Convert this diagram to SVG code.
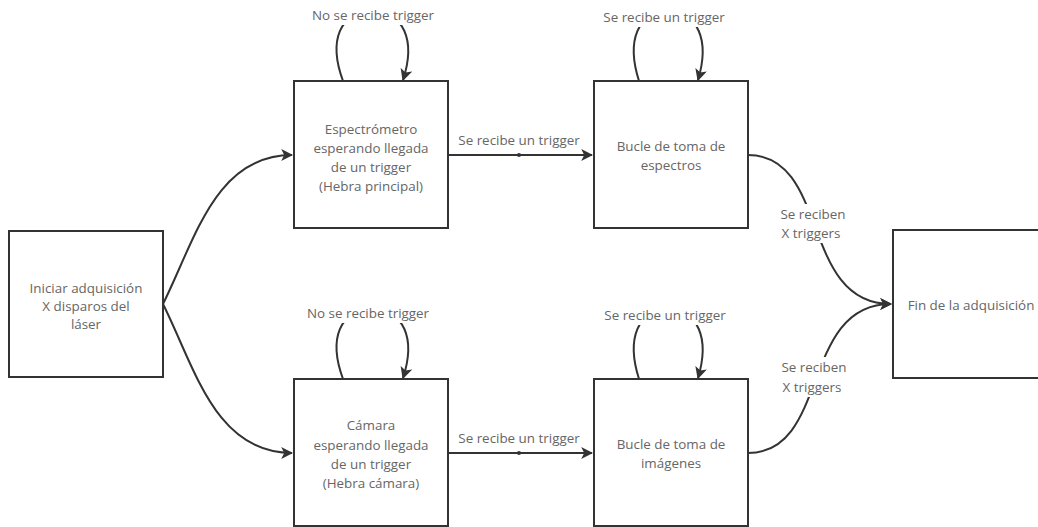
<svg xmlns="http://www.w3.org/2000/svg" width="1038" height="527" viewBox="0 0 1038 527">
  <style>
    .box { fill: #ffffff; stroke: #333333; stroke-width: 2; }
    .txt { font-family: "Open Sans", "Noto Sans", "DejaVu Sans", sans-serif; font-size: 13.4px; fill: #666666; text-anchor: middle; dominant-baseline: central; }
    .edge { fill: none; stroke: #333333; stroke-width: 2; }
    .lblbg { fill: #ffffff; stroke: none; }
  </style>
  <defs>
    <marker id="arrow" viewBox="0 0 10 10" refX="9" refY="5" markerWidth="12" markerHeight="12" markerUnits="userSpaceOnUse" orient="auto">
      <path d="M0,0 L10,5 L0,10 L2.5,5 Z" fill="#333333"/>
    </marker>
  </defs>
  <rect width="1038" height="527" fill="#ffffff"/>

  <!-- connectors -->
  <g id="connectors">
    <!-- start fan-out -->
    <path class="edge" d="M163 304 C195 240 215 155 292 155" marker-end="url(#arrow)"/>
    <path class="edge" d="M163 304 C195 368 215 453 292 453" marker-end="url(#arrow)"/>

    <!-- waiting -> acquisition loops -->
    <path class="edge" d="M448 155 L592 155" marker-end="url(#arrow)"/>
    <circle cx="519" cy="155" r="2" fill="#333333"/>
    <text class="txt" x="519" y="140">Se recibe un trigger</text>
    <path class="edge" d="M448 453 L592 453" marker-end="url(#arrow)"/>
    <circle cx="519" cy="453" r="2" fill="#333333"/>
    <text class="txt" x="519" y="438">Se recibe un trigger</text>

    <!-- self loops (top row) -->
    <path class="edge" d="M343 81 C328 40 340 12 372 12 C404 12 416 40 403 80" marker-end="url(#arrow)"/>
    <rect class="lblbg" x="308" y="6" width="130" height="19"/>
    <text class="txt" x="373" y="15">No se recibe trigger</text>

    <path class="edge" d="M639 81 C626 40 638 12 668 12 C698 12 710 40 698 80" marker-end="url(#arrow)"/>
    <rect class="lblbg" x="598" y="8" width="132" height="19"/>
    <text class="txt" x="664" y="17">Se recibe un trigger</text>

    <!-- self loops (bottom row) -->
    <path class="edge" d="M343 379 C328 338 340 310 372 310 C404 310 416 338 403 378" marker-end="url(#arrow)"/>
    <rect class="lblbg" x="303" y="304" width="130" height="19"/>
    <text class="txt" x="368" y="313">No se recibe trigger</text>

    <path class="edge" d="M639 379 C626 338 638 310 668 310 C698 310 710 338 698 378" marker-end="url(#arrow)"/>
    <rect class="lblbg" x="599" y="306" width="132" height="19"/>
    <text class="txt" x="665" y="315">Se recibe un trigger</text>

    <!-- acquisition loops -> end -->
    <path class="edge" d="M748 155 C830 155 800 304 891 304" marker-end="url(#arrow)"/>
    <rect class="lblbg" x="776" y="204" width="74" height="39"/>
    <text class="txt" x="813" y="214">Se reciben</text>
    <text class="txt" x="811" y="233">X triggers</text>

    <path class="edge" d="M748 453 C830 453 800 304 891 304" marker-end="url(#arrow)"/>
    <rect class="lblbg" x="777" y="357" width="74" height="40"/>
    <text class="txt" x="814" y="367">Se reciben</text>
    <text class="txt" x="812" y="387">X triggers</text>
  </g>

  <!-- nodes -->
  <g id="start">
    <rect class="box" x="9" y="231" width="154" height="146"/>
    <text class="txt" x="86" y="288">Iniciar adquisición</text>
    <text class="txt" x="86" y="306">X disparos del</text>
    <text class="txt" x="86" y="324">láser</text>
  </g>

  <g id="spectrometer-wait">
    <rect class="box" x="294" y="81" width="154" height="147"/>
    <text class="txt" x="371" y="129">Espectrómetro</text>
    <text class="txt" x="371" y="148">esperando llegada</text>
    <text class="txt" x="371" y="167">de un trigger</text>
    <text class="txt" x="371" y="186">(Hebra principal)</text>
  </g>

  <g id="spectra-loop">
    <rect class="box" x="594" y="81" width="154" height="147"/>
    <text class="txt" x="671" y="146">Bucle de toma de</text>
    <text class="txt" x="671" y="165">espectros</text>
  </g>

  <g id="camera-wait">
    <rect class="box" x="294" y="379" width="154" height="147"/>
    <text class="txt" x="371" y="425">Cámara</text>
    <text class="txt" x="371" y="445">esperando llegada</text>
    <text class="txt" x="371" y="464">de un trigger</text>
    <text class="txt" x="371" y="483">(Hebra cámara)</text>
  </g>

  <g id="images-loop">
    <rect class="box" x="594" y="379" width="154" height="147"/>
    <text class="txt" x="671" y="444">Bucle de toma de</text>
    <text class="txt" x="671" y="463">imágenes</text>
  </g>

  <g id="end">
    <rect class="box" x="893" y="230" width="154" height="148"/>
    <text class="txt" x="971" y="305">Fin de la adquisición</text>
  </g>
</svg>
